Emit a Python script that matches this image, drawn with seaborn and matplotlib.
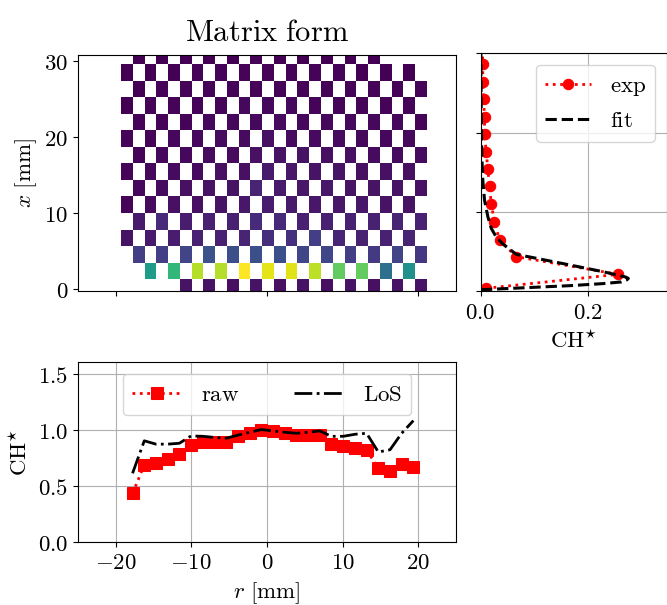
import numpy as np
import pandas as pd
import matplotlib
matplotlib.use("Agg")
import matplotlib.pyplot as plt
from matplotlib.ticker import FuncFormatter, FixedLocator, MultipleLocator
import seaborn as sns

plt.rcParams['mathtext.fontset'] = 'cm'
plt.rcParams['axes.unicode_minus'] = True

nan = np.nan

# ---------------- data ----------------
# matrix grid (cell centres)
r_cells = [-18.52, -16.96, -15.41, -13.85, -12.29, -10.74, -9.18, -7.62, -6.07,
           -4.51, -2.95, -1.40, 0.16, 1.72, 3.27, 4.83, 6.39, 7.94, 9.50, 11.06,
           12.61, 14.17, 15.73, 17.28, 18.84, 20.40]
x_cells = [0.18, 2.36, 4.54, 6.72, 8.90, 11.08, 13.26, 15.44, 17.62, 19.80,
           21.98, 24.16, 26.34, 28.52, 30.70]

# present (non-NaN) values per row, listed for the occupied columns
row_vals = {
    0:  (5,  [0.05, 0.05, 0.04, 0.05, 0.04, 0.05, 0.04, 0.05, 0.04, 0.05, 0.05]),
    1:  (2,  [0.55, 0.66, 0.89, 0.89, 1.00, 0.96, 0.95, 0.90, 0.76, 0.76, 0.36, 0.50]),
    2:  (1,  [0.18, 0.18, 0.20, 0.25, 0.24, 0.24, 0.24, 0.21, 0.21, 0.18, 0.17, 0.20, 0.16]),
    3:  (0,  [0.05, 0.07, 0.08, 0.09, 0.09, 0.10, 0.13, 0.14, 0.18, 0.10, 0.09, 0.09, 0.10]),
    4:  (1,  [0.07, 0.12, 0.08, 0.09, 0.09, 0.12, 0.11, 0.09, 0.09, 0.09, 0.09, 0.10, 0.09]),
    5:  (0,  [0.01, 0.03, 0.04, 0.04, 0.05, 0.06, 0.08, 0.07, 0.06, 0.06, 0.06, 0.05, 0.05]),
    6:  (1,  [0.02, 0.03, 0.04, 0.05, 0.05, 0.10, 0.07, 0.06, 0.06, 0.05, 0.05, 0.05, 0.04]),
    7:  (0,  [0.01, 0.02, 0.03, 0.03, 0.04, 0.04, 0.07, 0.06, 0.05, 0.05, 0.04, 0.04, 0.04]),
    8:  (1,  [0.01, 0.02, 0.02, 0.03, 0.03, 0.04, 0.05, 0.05, 0.04, 0.04, 0.03, 0.03, 0.03]),
    9:  (0,  [0.01, 0.01, 0.02, 0.02, 0.03, 0.03, 0.04, 0.03, 0.03, 0.03, 0.02, 0.02, 0.02]),
    10: (1,  [0.01, 0.01, 0.01, 0.02, 0.02, 0.02, 0.03, 0.02, 0.02, 0.02, 0.02, 0.02, 0.01]),
    11: (0,  [0.00, 0.01, 0.01, 0.01, 0.01, 0.02, 0.02, 0.02, 0.01, 0.01, 0.01, 0.01, 0.01]),
    12: (1,  [0.00, 0.01, 0.01, 0.01, 0.01, 0.01, 0.01, 0.01, 0.01, 0.01, 0.01, 0.01, 0.01]),
    13: (0,  [0.00, 0.00, 0.00, 0.01, 0.01, 0.01, 0.01, 0.01, 0.01, 0.01, 0.00, 0.00, 0.00]),
    14: (1,  [0.00, 0.00, 0.00, 0.00, 0.00, 0.01, 0.00, 0.00, 0.00, 0.00, 0.00]),
}

# axial profile (right panel)
x_exp = [0.38, 2.14, 4.36, 6.47, 8.78, 11.0, 13.28, 15.4, 17.6, 19.8, 22.0,
         24.2, 26.4, 28.66, 30.83]
ch_exp = [0.0106, 0.256, 0.0665, 0.0354, 0.026, 0.020, 0.0168, 0.0137, 0.0106,
          0.0075, 0.0075, 0.0056, 0.0043, 0.0043, 0.003]
x_fit = [0.12, 0.21, 0.42, 0.71, 0.97, 1.18, 1.43, 1.62, 1.80, 2.47, 3.32, 4.16,
         4.66, 5.96, 6.88, 7.94, 9.4, 11.5, 14.0, 17.0, 23.3, 31.0]
ch_fit = [0.001, 0.004, 0.073, 0.166, 0.228, 0.262, 0.272, 0.275, 0.270, 0.228,
          0.166, 0.104, 0.0665, 0.0416, 0.029, 0.020, 0.0137, 0.0075, 0.0043,
          0.0025, 0.0013, 0.0006]

# radial profile (bottom panel)
r_prof = [-17.75, -16.20, -14.66, -13.11, -11.56, -10.02, -8.47, -6.92, -5.38,
          -3.83, -2.28, -0.74, 0.81, 2.36, 3.90, 5.45, 7.00, 8.54, 10.09, 11.64,
          13.18, 14.73, 16.28, 17.82, 19.37]
raw = [0.43, 0.685, 0.70, 0.74, 0.78, 0.86, 0.887, 0.887, 0.887, 0.946, 0.967,
       1.0, 0.988, 0.967, 0.952, 0.952, 0.952, 0.869, 0.857, 0.839, 0.818, 0.655,
       0.634, 0.69, 0.67]
los = [0.61, 0.90, 0.87, 0.87, 0.878, 0.943, 0.94, 0.93, 0.923, 0.95, 0.976,
       1.0, 0.988, 0.976, 0.967, 0.976, 0.988, 0.94, 0.94, 0.958, 0.967, 0.80,
       0.82, 0.967, 1.08]

# build matrix
M = np.full((len(x_cells), len(r_cells)), nan)
for i, (c0, vals) in row_vals.items():
    for k, v in enumerate(vals):
        M[i, c0 + 2 * k] = v
M = np.ma.masked_invalid(M)

# ---------------- figure ----------------
W, H = 667, 605
fig = plt.figure(figsize=(W / 100, H / 100), dpi=100)

def add_ax(l, t, r, b):
    return fig.add_axes([l / W, 1 - b / H, (r - l) / W, (b - t) / H])

ax_m = add_ax(78, 54.7, 455.7, 290.7)
ax_p = add_ax(480.5, 53.3, 666.5, 291.3)
ax_b = add_ax(77.7, 362.3, 456, 541.7)

fs = 16.5

def fmt_int(v, p):
    return f'${v:.0f}$'

def fmt_1(v, p):
    return f'${v:.1f}$'

# matrix panel
ax_m.pcolormesh(r_cells, x_cells, M, cmap='viridis', vmin=0, vmax=1,
                shading='nearest')
ax_m.set_xlim(-25, 25)
ax_m.set_ylim(-0.26, 30.87)
ax_m.xaxis.set_major_locator(FixedLocator([-20, 0, 20]))
ax_m.set_xticklabels([])
ax_m.yaxis.set_major_locator(FixedLocator([0, 10, 20, 30]))
ax_m.yaxis.set_major_formatter(FuncFormatter(fmt_int))
ax_m.tick_params(labelsize=fs)
ax_m.set_ylabel(r'$x\ [\mathrm{mm}]$', fontsize=fs)
ax_m.set_title(r'$\mathrm{Matrix\ form}$', fontsize=22, pad=10)

# profile panel
sns.lineplot(x=ch_exp, y=x_exp, ax=ax_p, orient='y', sort=False, estimator=None,
             color='red', linestyle=':', lw=2, marker='o', markersize=7.5,
             markeredgecolor='red', label=r'$\mathrm{exp}$')
sns.lineplot(x=ch_fit, y=x_fit, ax=ax_p, orient='y', sort=False, estimator=None,
             color='black', linestyle='--', lw=2.2, label=r'$\mathrm{fit}$')
ax_p.set_xlim(0, 0.346)
ax_p.set_ylim(0, 30)
ax_p.xaxis.set_major_locator(MultipleLocator(0.2))
ax_p.xaxis.set_major_formatter(FuncFormatter(fmt_1))
ax_p.yaxis.set_major_locator(FixedLocator([0, 10, 20, 30]))
ax_p.set_yticklabels([])
ax_p.tick_params(labelsize=fs)
ax_p.grid(True, color='#b0b0b0', lw=0.8)
ax_p.set_axisbelow(True)
ax_p.set_xlabel(r'$\mathrm{CH}^{\star}$', fontsize=fs)
ax_p.set_ylabel('')
ax_p.legend(loc='upper right', fontsize=fs)

# bottom panel
sns.lineplot(x=r_prof, y=raw, ax=ax_b, sort=False, estimator=None,
             color='red', linestyle=':', lw=2, marker='s', markersize=8,
             markeredgecolor='red', label=r'$\mathrm{raw}$')
sns.lineplot(x=r_prof, y=los, ax=ax_b, sort=False, estimator=None,
             color='black', linestyle='-.', lw=2, label=r'$\mathrm{LoS}$')
ax_b.set_xlim(-25, 25)
ax_b.set_ylim(0, 1.6)
ax_b.xaxis.set_major_locator(MultipleLocator(10))
ax_b.xaxis.set_major_formatter(FuncFormatter(fmt_int))
ax_b.yaxis.set_major_locator(MultipleLocator(0.5))
ax_b.yaxis.set_major_formatter(FuncFormatter(fmt_1))
ax_b.tick_params(labelsize=fs)
ax_b.grid(True, color='#b0b0b0', lw=0.8)
ax_b.set_axisbelow(True)
ax_b.set_xlabel(r'$r\ [\mathrm{mm}]$', fontsize=fs)
ax_b.set_ylabel(r'$\mathrm{CH}^{\star}$', fontsize=fs)
ax_b.legend(loc='upper center', ncol=2, fontsize=fs, handlelength=2.2,
            columnspacing=2.4)

fig.savefig('out.png', dpi=100)
